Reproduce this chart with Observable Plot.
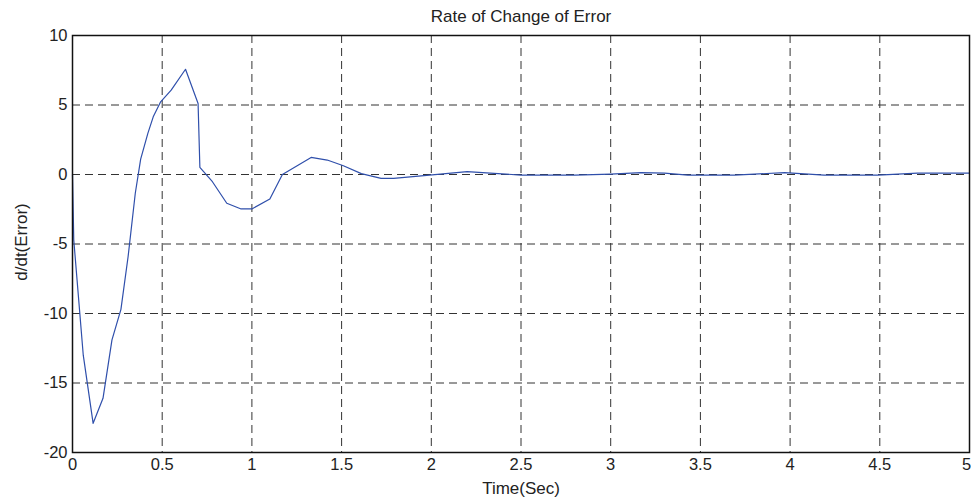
<!DOCTYPE html>
<html>
<head>
<meta charset="utf-8">
<script src="https://cdn.jsdelivr.net/npm/d3@7"></script>
<script src="https://cdn.jsdelivr.net/npm/@observablehq/plot@0.6"></script>
<style>
  html, body { margin: 0; padding: 0; background: #fff; }
  #chart svg { display: block; }
</style>
</head>
<body>
<div id="chart"></div>
<script>
// Time samples (s) and the derivative of the tracking error
const time = [0, 0.007, 0.06, 0.115, 0.17, 0.22, 0.27, 0.31, 0.35, 0.38, 0.42, 0.45, 0.49, 0.55, 0.63, 0.70, 0.71,
  0.78, 0.86, 0.94, 1.00, 1.10, 1.17, 1.33, 1.42, 1.51, 1.61, 1.72, 1.79, 1.99, 2.20, 2.35, 2.50,
  2.80, 3.00, 3.17, 3.30, 3.43, 3.69, 3.97, 4.19, 4.49, 4.71, 5.00];
const dError = [0, -4.7, -13.0, -17.9, -16.1, -11.9, -9.7, -5.9, -1.35, 1.1, 2.96, 4.15, 5.2, 6.07, 7.57, 5.11, 0.52,
  -0.52, -2.07, -2.48, -2.48, -1.76, 0.0, 1.23, 1.04, 0.63, 0.06, -0.28, -0.28, -0.04, 0.2, 0.08, -0.04,
  -0.04, 0.03, 0.13, 0.1, -0.04, -0.04, 0.13, -0.04, -0.05, 0.1, 0.1];

const xTicks = [0, 0.5, 1, 1.5, 2, 2.5, 3, 3.5, 4, 4.5, 5];
const yTicks = [-20, -15, -10, -5, 0, 5, 10];

const title = "Rate of Change of Error";
const xLabel = "Time(Sec)";
const yLabel = "d/dt(Error)";

const series = time.map((t, i) => ({t, v: dError[i]}));
const font = "'Liberation Sans', Arial, Helvetica, sans-serif";
const ink = "#222";
const tickFont = 16.5;
const labelFont = 17;

const chart = Plot.plot({
  width: 971,
  height: 502,
  marginLeft: 72,
  marginRight: 2,
  marginTop: 35,
  marginBottom: 50,
  style: {fontFamily: font, fontSize: "16px", color: ink, background: "#fff"},
  x: {domain: [0, 5], ticks: xTicks},
  y: {domain: [-20, 10], ticks: yTicks},
  marks: [
    // dashed grid
    Plot.ruleX(xTicks.slice(1, -1), {stroke: "#333", strokeWidth: 1, strokeDasharray: "8,5"}),
    Plot.ruleY(yTicks.slice(1, -1), {stroke: "#333", strokeWidth: 1, strokeDasharray: "8,5"}),
    // x tick labels; the last one is nudged left so it stays inside the SVG
    Plot.axisX({ticks: xTicks.slice(0, -1), tickSize: 0, tickPadding: 6, tickFormat: d => String(d), label: null, fontSize: tickFont, fill: ink}),
    Plot.axisX({ticks: xTicks.slice(-1), tickSize: 0, tickPadding: 6, tickFormat: d => String(d), label: null, fontSize: tickFont, fill: ink, dx: -3}),
    Plot.axisY({ticks: yTicks, tickSize: 0, tickPadding: 5, tickFormat: d => String(d), label: null, fontSize: tickFont, fill: ink}),
    Plot.line(series, {x: "t", y: "v", stroke: "#2f4fab", strokeWidth: 1.2}),
    Plot.frame({stroke: "#111", strokeWidth: 1.5}),
    Plot.text([title], {frameAnchor: "top", lineAnchor: "middle", textAnchor: "middle", dy: -19, fontSize: labelFont, fill: ink}),
    Plot.text([xLabel], {frameAnchor: "bottom", lineAnchor: "middle", textAnchor: "middle", dy: 36, fontSize: labelFont, fill: ink}),
    Plot.text([yLabel], {frameAnchor: "left", lineAnchor: "middle", textAnchor: "middle", dx: -51, dy: -2, rotate: -90, fontSize: labelFont, fill: ink})
  ]
});

document.getElementById("chart").appendChild(chart);
</script>
</body>
</html>
